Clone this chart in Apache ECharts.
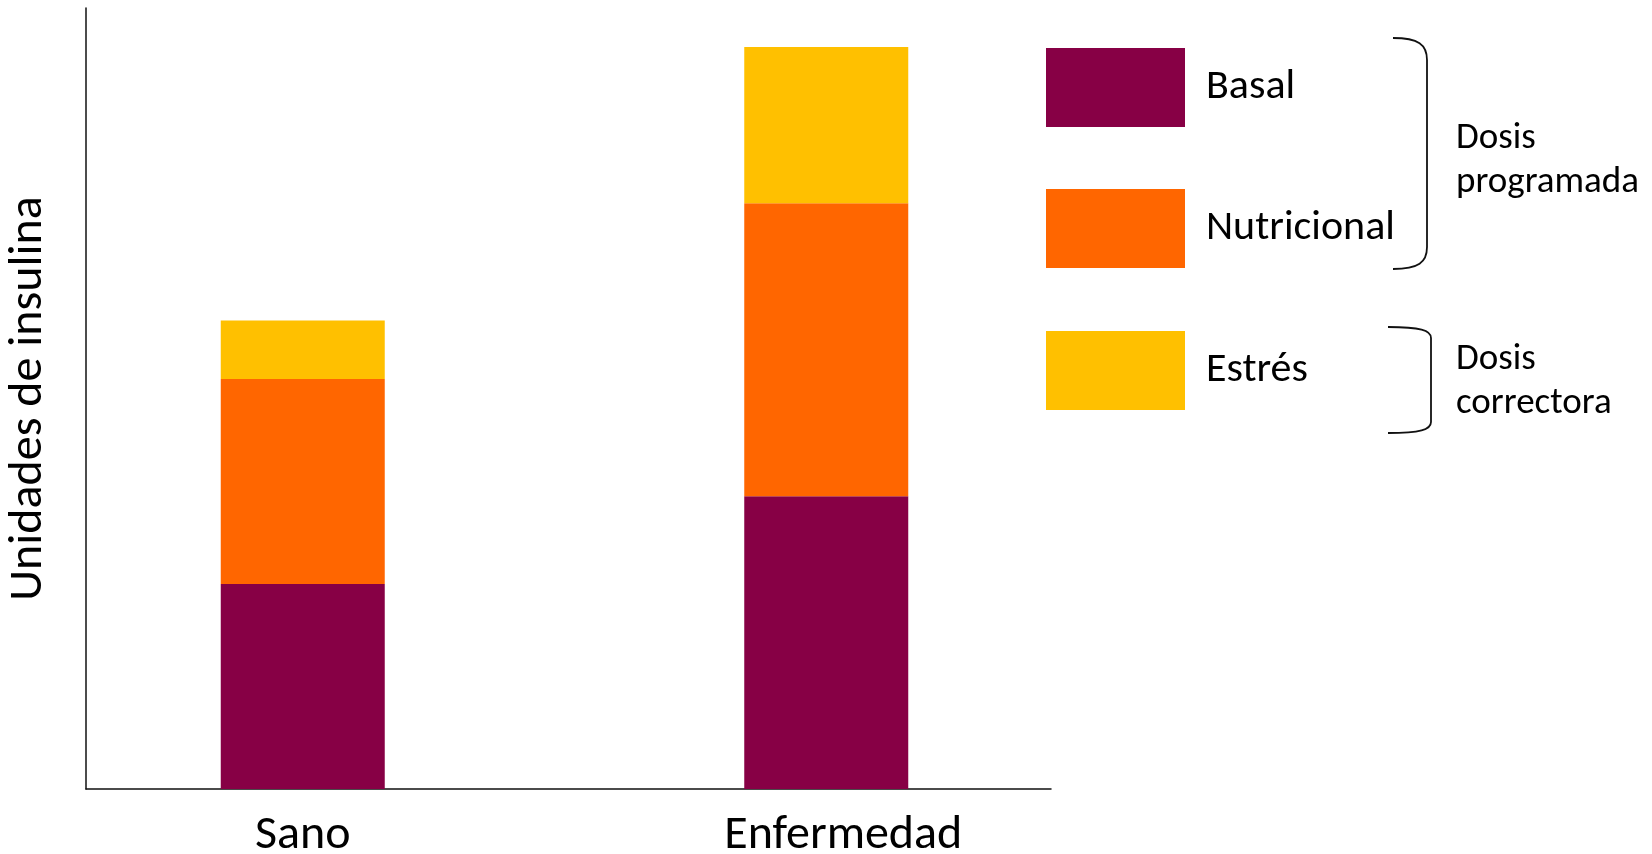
<!DOCTYPE html>
<html>
<head>
<meta charset="utf-8">
<script src="https://cdn.jsdelivr.net/npm/echarts@6/dist/echarts.min.js"></script>
<style>
html,body{margin:0;padding:0;background:#fff;}
#chart{width:1652px;height:854px;}
</style>
</head>
<body>
<div id="chart"></div>
<script>
const categories = ['Sano', 'Enfermedad'];
const basal = [21, 30];
const nutricional = [21, 30];
const estres = [6, 16];
const seriesNames = ['Basal', 'Nutricional', 'Estrés'];
const groupLabels = ['Dosis\nprogramada', 'Dosis\ncorrectora'];
const yName = 'Unidades de insulina';

const FONT = 'Carlito, Lato, "Open Sans", sans-serif';
const colors = ['#870045', '#FF6600', '#FFC000'];

const chart = echarts.init(document.getElementById('chart'));

function legendFor(name, top) {
  return {
    data: [name], left: 1046, top: top, orient: 'vertical', padding: 0,
    itemWidth: 139, itemHeight: 79, icon: 'rect', selectedMode: false,
    formatter: '{t|{name}}',
    textStyle: {
      color: '#000', fontFamily: FONT, fontSize: 42,
      rich: { t: { color: '#000', fontFamily: FONT, fontSize: 42, padding: [0, 0, 0, 16] } }
    }
  };
}

const braceStyle = { fill: 'none', stroke: '#111', lineWidth: 1.8 };
function brace(xl, xr, yt, yb, rx, ry) {
  return [
    { type: 'bezierCurve', silent: true, style: braceStyle,
      shape: { x1: xl, y1: yt, cpx1: xl + rx * 0.75, cpy1: yt, cpx2: xr, cpy2: yt + ry * 0.3, x2: xr, y2: yt + ry } },
    { type: 'line', silent: true, style: braceStyle,
      shape: { x1: xr, y1: yt + ry, x2: xr, y2: yb - ry } },
    { type: 'bezierCurve', silent: true, style: braceStyle,
      shape: { x1: xr, y1: yb - ry, cpx1: xr, cpy1: yb - ry * 0.3, cpx2: xl + rx * 0.75, cpy2: yb, x2: xl, y2: yb } }
  ];
}

chart.setOption({
  animation: false,
  backgroundColor: '#fff',
  color: colors,
  grid: [
    { left: 41, top: 8, width: 1047, height: 781, outerBoundsMode: 'none', containLabel: false },
    { left: 86, top: 8, width: 965, height: 781, outerBoundsMode: 'none', containLabel: false }
  ],
  legend: [legendFor(seriesNames[0], 48), legendFor(seriesNames[1], 189), legendFor(seriesNames[2], 331)],
  xAxis: [
    {
      type: 'category', data: categories, gridIndex: 0,
      axisLine: { show: false }, axisTick: { show: false },
      axisLabel: {
        margin: 23, color: '#000', fontFamily: FONT, fontSize: 48,
        formatter: function (v) { return v === categories[1] ? '{e|' + v + '}' : '{s|' + v + '}'; },
        rich: {
          s: { fontFamily: FONT, fontSize: 48, color: '#000' },
          e: { fontFamily: FONT, fontSize: 48, color: '#000', padding: [0, 0, 0, 34] }
        }
      }
    },
    {
      type: 'value', gridIndex: 1, min: 0, max: 1,
      axisLine: { show: true, lineStyle: { color: '#111', width: 1.5 } },
      axisTick: { show: false }, axisLabel: { show: false }, splitLine: { show: false }
    }
  ],
  yAxis: [
    {
      type: 'value', gridIndex: 0, min: 0, max: 80,
      axisLine: { show: false }, axisTick: { show: false }, axisLabel: { show: false }, splitLine: { show: false }
    },
    {
      type: 'value', gridIndex: 1, min: 0, max: 1,
      name: yName, nameLocation: 'middle', nameRotate: 90, nameGap: 33,
      nameTextStyle: { color: '#000', fontFamily: FONT, fontSize: 48 },
      axisLine: { show: true, lineStyle: { color: '#111', width: 1.5 } },
      axisTick: { show: false }, axisLabel: { show: false }, splitLine: { show: false }
    }
  ],
  series: [
    { name: seriesNames[0], type: 'bar', stack: 'total', data: basal, barWidth: 164, xAxisIndex: 0, yAxisIndex: 0 },
    { name: seriesNames[1], type: 'bar', stack: 'total', data: nutricional, barWidth: 164, xAxisIndex: 0, yAxisIndex: 0 },
    { name: seriesNames[2], type: 'bar', stack: 'total', data: estres, barWidth: 164, xAxisIndex: 0, yAxisIndex: 0 }
  ],
  graphic: [].concat(
    brace(1393, 1427, 38, 269, 34, 22),
    brace(1388, 1431, 327, 433, 43, 11),
    [
      { type: 'text', x: 1456, y: 161, silent: true,
        style: { text: groupLabels[0], fill: '#000', font: '37px ' + FONT, lineHeight: 44, verticalAlign: 'middle', align: 'left' } },
      { type: 'text', x: 1456, y: 382, silent: true,
        style: { text: groupLabels[1], fill: '#000', font: '37px ' + FONT, lineHeight: 44, verticalAlign: 'middle', align: 'left' } }
    ]
  )
});
</script>
</body>
</html>
